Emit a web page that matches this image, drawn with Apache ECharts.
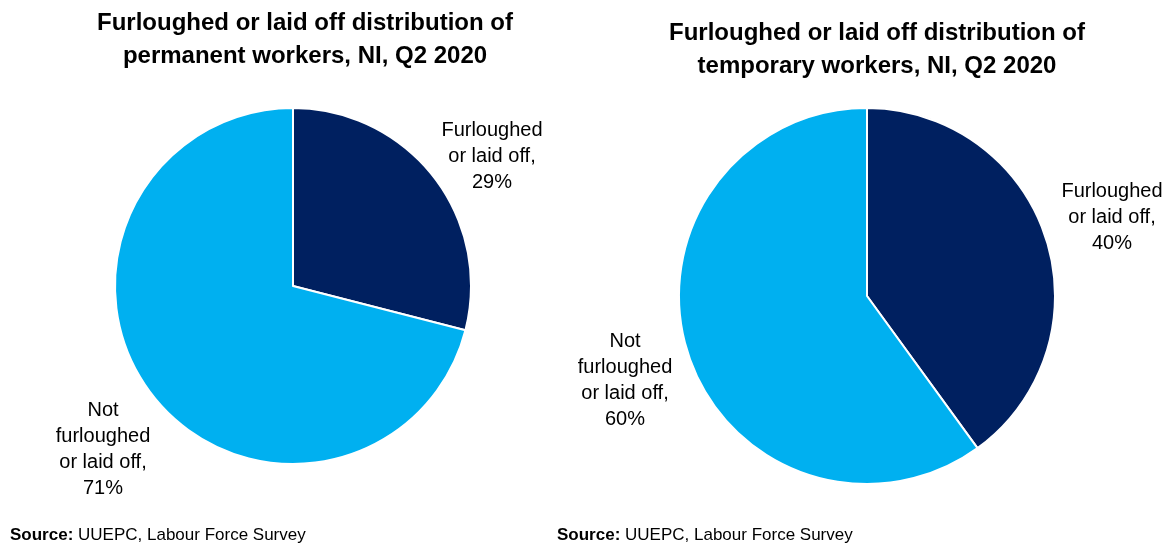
<!DOCTYPE html>
<html>
<head>
<meta charset="utf-8">
<script src="https://cdn.jsdelivr.net/npm/echarts@6/dist/echarts.min.js"></script>
<style>
  html, body { margin: 0; padding: 0; background: #ffffff; }
  #chart { width: 1173px; height: 548px; }
</style>
</head>
<body>
<div id="chart"></div>
<script>
// Category names (line breaks as they are shown on the labels)
const categories = ['Furloughed\nor laid off', 'Not\nfurloughed\nor laid off'];
// Share of workers, percent
const permanentValues = [29, 71];
const temporaryValues = [40, 60];
const chartTitles = [
  'Furloughed or laid off distribution of\npermanent workers, NI, Q2 2020',
  'Furloughed or laid off distribution of\ntemporary workers, NI, Q2 2020'
];
const sourceText = 'UUEPC, Labour Force Survey';

const FONT = '"Liberation Sans", Arial, sans-serif';
const COLORS = ['#002060', '#00B0F0'];

const chart = echarts.init(document.getElementById('chart'), null, { renderer: 'canvas' });

// Label anchor points (label centres) for each pie
const labelSpots = [
  [[492, 156], [103, 449]],
  [[1112, 217], [625, 380]]
];

function makePie(values, center, radius, pieIndex) {
  return {
    type: 'pie',
    center: center,
    radius: radius,
    startAngle: 90,
    clockwise: true,
    animation: false,
    silent: true,
    itemStyle: { borderColor: '#ffffff', borderWidth: 2 },
    label: {
      show: true,
      position: 'outside',
      formatter: p => p.name + ',\n' + p.value + '%',
      fontFamily: FONT,
      fontSize: 20,
      lineHeight: 26,
      color: '#000000',
      align: 'center',
      overflow: 'none',
      edgeDistance: 0
    },
    labelLine: { show: false },
    labelLayout: p => {
      const spot = labelSpots[pieIndex][p.dataIndex];
      return { x: spot[0], y: spot[1], align: 'center', verticalAlign: 'middle' };
    },
    data: categories.map((name, i) => ({
      name: name,
      value: values[i],
      itemStyle: { color: COLORS[i] }
    }))
  };
}

const titleStyle = {
  fontFamily: FONT,
  fontSize: 24,
  fontWeight: 'bold',
  lineHeight: 33,
  color: '#000000',
  align: 'center'
};

const sourceStyle = {
  fontFamily: FONT,
  fontSize: 17,
  fontWeight: 'normal',
  color: '#000000',
  rich: {
    b: { fontFamily: FONT, fontSize: 17, fontWeight: 'bold', color: '#000000' }
  }
};

chart.setOption({
  backgroundColor: '#ffffff',
  title: [
    { text: chartTitles[0], left: 300, top: 2, textAlign: 'center', textStyle: titleStyle },
    { text: chartTitles[1], left: 872, top: 12, textAlign: 'center', textStyle: titleStyle },
    { text: '{b|Source:} ' + sourceText, left: 5, top: 522, textStyle: sourceStyle },
    { text: '{b|Source:} ' + sourceText, left: 552, top: 522, textStyle: sourceStyle }
  ],
  series: [
    makePie(permanentValues, [293, 286], 178, 0),
    makePie(temporaryValues, [867, 296], 188, 1)
  ]
});
</script>
</body>
</html>
